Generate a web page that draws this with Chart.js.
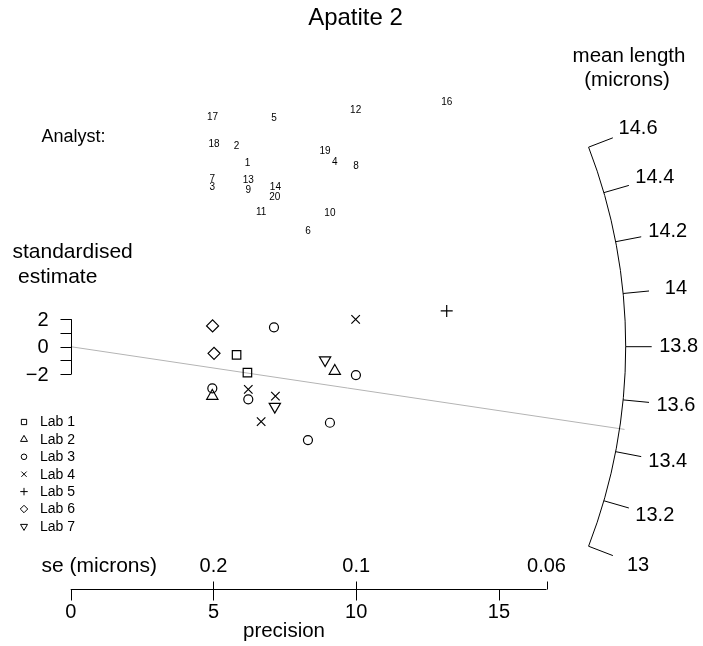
<!DOCTYPE html>
<html>
<head>
<meta charset="utf-8">
<title>Apatite 2</title>
<script src="https://cdn.jsdelivr.net/npm/chart.js@4.4.1/dist/chart.umd.min.js"></script>
<style>
  html, body { margin: 0; padding: 0; background: #fff; }
  #wrap { width: 703px; height: 646px; position: relative; }
</style>
</head>
<body>
<div id="wrap"><canvas id="radial"></canvas></div>
<script>
  // --- data ---
  const labNames = ['Lab 1', 'Lab 2', 'Lab 3', 'Lab 4', 'Lab 5', 'Lab 6', 'Lab 7'];

  // precision (1/se), standardised estimate and analyst number, per lab
  const lab1Precision = [5.81, 6.19];
  const lab1Z = [-0.60, -1.89];
  const lab1Analyst = [2, 1];

  const lab2Precision = [9.25, 4.96];
  const lab2Z = [-1.77, -3.59];
  const lab2Analyst = [4, 3];

  const lab3Precision = [7.12, 9.99, 4.96, 6.22, 9.08, 8.31];
  const lab3Z = [1.41, -2.06, -3.03, -3.83, -5.53, -6.79];
  const lab3Analyst = [5, 8, 7, 9, 10, 6];

  const lab4Precision = [9.98, 6.22, 7.17, 6.67];
  const lab4Z = [1.99, -3.10, -3.59, -5.45];
  const lab4Analyst = [12, 13, 14, 11];

  const lab5Precision = [13.17];
  const lab5Z = [2.60];
  const lab5Analyst = [16];

  const lab6Precision = [4.97, 5.02];
  const lab6Z = [1.51, -0.48];
  const lab6Analyst = [17, 18];

  const lab7Precision = [8.91, 7.15];
  const lab7Z = [-0.97, -4.36];
  const lab7Analyst = [19, 20];

  const centralValue = 13.8;      // mean length at z = 0
  const referenceValue = 13.49;   // grey reference line
  const meanLengthTicks = [13, 13.2, 13.4, 13.6, 13.8, 14, 14.2, 14.4, 14.6];
  const zTicks = [-2, -1, 0, 1, 2];
  const zTickLabels = [-2, 0, 2];
  const precisionTicks = [0, 5, 10, 15];
  const seTicks = [0.2, 0.1, 0.06];

  const labPrecision = [lab1Precision, lab2Precision, lab3Precision, lab4Precision, lab5Precision, lab6Precision, lab7Precision];
  const labZ = [lab1Z, lab2Z, lab3Z, lab4Z, lab5Z, lab6Z, lab7Z];
  const labAnalyst = [lab1Analyst, lab2Analyst, lab3Analyst, lab4Analyst, lab5Analyst, lab6Analyst, lab7Analyst];

  // --- styles ---
  const FONT = "'Liberation Sans', Arial, Helvetica, sans-serif";
  const symStyle = ['rect', 'triangle', 'circle', 'crossRot', 'cross', 'rectRot', 'triangle'];
  const symRotation = [0, 0, 0, 0, 0, 0, 180];
  const symRadius = [6, 6.5, 4.5, 6, 6, 6, 6.5];
  const arcRadius = 555;
  const arcTickLen = 26;
  const arcLabelRadius = 608;
  const analystShift = 209;
  const bottomAxisY = 589.5;

  function fmtMinus(v) { return String(v).replace('-', '\u2212'); }

  function text(ctx, s, x, y, size, align) {
    ctx.font = size + 'px ' + FONT;
    ctx.textAlign = align || 'center';
    ctx.textBaseline = 'middle';
    ctx.fillStyle = '#000';
    ctx.fillText(s, x, y);
  }

  function direction(xs, ys, value) {
    const ox = xs.getPixelForValue(0), oy = ys.getPixelForValue(0);
    const dx = xs.getPixelForValue(1) - ox;
    const dy = ys.getPixelForValue(value - centralValue) - oy;
    const len = Math.hypot(dx, dy);
    return [dx / len, dy / len];
  }

  const radialDecor = {
    id: 'radialDecor',
    beforeDatasetsDraw(chart) {
      const ctx = chart.ctx;
      const xs = chart.scales.x, ys = chart.scales.y;
      const ox = xs.getPixelForValue(0), oy = ys.getPixelForValue(0);
      ctx.save();

      // grey reference line
      const rd = direction(xs, ys, referenceValue);
      ctx.strokeStyle = '#b4b4b4';
      ctx.lineWidth = 1;
      ctx.beginPath();
      ctx.moveTo(ox, oy);
      ctx.lineTo(ox + rd[0] * (arcRadius + 5), oy + rd[1] * (arcRadius + 5));
      ctx.stroke();

      // mean length arc
      const dLo = direction(xs, ys, meanLengthTicks[0]);
      const dHi = direction(xs, ys, meanLengthTicks[meanLengthTicks.length - 1]);
      ctx.strokeStyle = '#000';
      ctx.beginPath();
      ctx.arc(ox, oy, arcRadius, Math.atan2(dHi[1], dHi[0]), Math.atan2(dLo[1], dLo[0]));
      ctx.stroke();
      meanLengthTicks.forEach(v => {
        const d = direction(xs, ys, v);
        ctx.beginPath();
        ctx.moveTo(ox + d[0] * arcRadius, oy + d[1] * arcRadius);
        ctx.lineTo(ox + d[0] * (arcRadius + arcTickLen), oy + d[1] * (arcRadius + arcTickLen));
        ctx.stroke();
        text(ctx, String(v), ox + d[0] * arcLabelRadius, oy + d[1] * arcLabelRadius, 20);
      });

      // standardised estimate axis
      const zx = Math.round(ox) + 0.5;
      ctx.beginPath();
      ctx.moveTo(zx, ys.getPixelForValue(zTicks[0]));
      ctx.lineTo(zx, ys.getPixelForValue(zTicks[zTicks.length - 1]));
      zTicks.forEach(t => {
        const py = Math.round(ys.getPixelForValue(t)) + 0.5;
        ctx.moveTo(zx, py);
        ctx.lineTo(zx - 11, py);
      });
      ctx.stroke();
      zTickLabels.forEach(t => text(ctx, fmtMinus(t), 48.5, ys.getPixelForValue(t) + 1, 20, 'right'));

      // precision / se axis
      const by = bottomAxisY;
      const xEnd = xs.getPixelForValue(1 / seTicks[seTicks.length - 1]);
      ctx.beginPath();
      ctx.moveTo(ox, by);
      ctx.lineTo(xEnd, by);
      precisionTicks.forEach(p => {
        const px = Math.round(xs.getPixelForValue(p)) + 0.5;
        ctx.moveTo(px, by);
        ctx.lineTo(px, by + 11);
      });
      seTicks.forEach(s => {
        const px = Math.round(xs.getPixelForValue(1 / s)) + 0.5;
        ctx.moveTo(px, by);
        ctx.lineTo(px, by - 8);
      });
      ctx.stroke();
      precisionTicks.forEach(p => text(ctx, String(p), xs.getPixelForValue(p), 612, 20));
      seTicks.forEach(s => text(ctx, String(s), xs.getPixelForValue(1 / s), 566, 20));

      // titles and axis names
      text(ctx, 'Apatite 2', 355.5, 18, 24);
      text(ctx, 'mean length', 629, 56, 20.5);
      text(ctx, '(microns)', 627, 80, 20.5);
      text(ctx, 'standardised', 12.5, 252, 21, 'left');
      text(ctx, 'estimate', 18, 277, 21, 'left');
      text(ctx, 'se (microns)', 41.5, 566, 21, 'left');
      text(ctx, 'precision', 284, 631, 20.5);
      text(ctx, 'Analyst:', 41.5, 137, 18, 'left');

      ctx.restore();
    },
    afterDatasetsDraw(chart) {
      const ctx = chart.ctx;
      ctx.save();
      // analyst numbers, drawn above each estimate
      chart.data.datasets.forEach((ds, di) => {
        const meta = chart.getDatasetMeta(di);
        meta.data.forEach((el, i) => {
          text(ctx, String(ds.data[i].analyst), el.x, el.y - analystShift, 10);
        });
      });
      // legend
      labNames.forEach((name, i) => {
        const y = 422 + i * 17.4;
        ctx.strokeStyle = '#000';
        ctx.fillStyle = 'rgba(0,0,0,0)';
        ctx.lineWidth = 1;
        Chart.helpers.drawPoint(ctx, {
          pointStyle: symStyle[i],
          rotation: symRotation[i],
          radius: symRadius[i] * 0.62,
          borderWidth: 1
        }, 24, y);
        text(ctx, name, 40, y + 0.5, 14, 'left');
      });
      ctx.restore();
    }
  };

  const datasets = labNames.map((name, i) => ({
    label: name,
    data: labPrecision[i].map((p, j) => ({ x: p, y: labZ[i][j], analyst: labAnalyst[i][j] })),
    pointStyle: symStyle[i],
    rotation: symRotation[i],
    pointRadius: symRadius[i],
    pointBorderColor: '#000',
    pointBackgroundColor: 'rgba(0,0,0,0)',
    pointBorderWidth: 1.2,
    showLine: false
  }));

  // pixel mapping: precision 0 at x=70.7, 28.55 px per unit; z 0 at y=346.7, 13.75 px per unit
  const xPerUnit = 28.55, yPerUnit = 13.75, originX = 70.7, originY = 346.7;
  const W = 703, H = 646;

  new Chart(document.getElementById('radial'), {
    type: 'scatter',
    data: { datasets },
    options: {
      responsive: true,
      maintainAspectRatio: false,
      animation: false,
      events: [],
      layout: { padding: 0, autoPadding: false },
      plugins: { legend: { display: false }, tooltip: { enabled: false } },
      scales: {
        x: { type: 'linear', display: false, min: -originX / xPerUnit, max: (W - originX) / xPerUnit },
        y: { type: 'linear', display: false, min: (originY - H) / yPerUnit, max: originY / yPerUnit }
      }
    },
    plugins: [radialDecor]
  });
</script>
</body>
</html>
